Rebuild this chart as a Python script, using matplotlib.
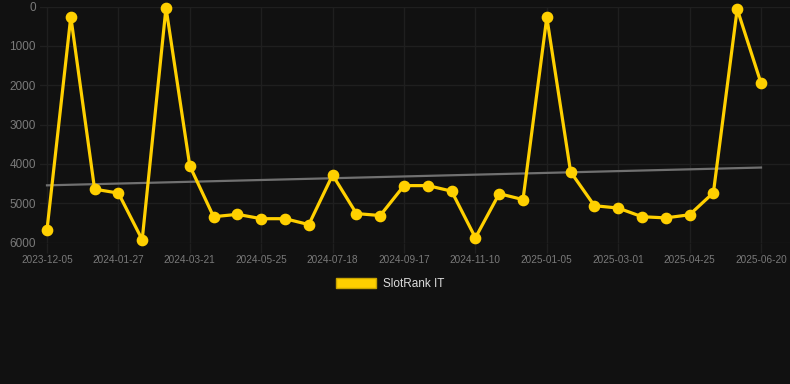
import numpy as np
import matplotlib
matplotlib.use("Agg")
import matplotlib.pyplot as plt
from matplotlib.patches import Patch

plt.rcParams['font.family'] = ['Liberation Sans', 'DejaVu Sans']

# rank values (lower = better, axis inverted)
ranks = [5670, 260, 4640, 4740, 5925, 30, 4050, 5340, 5280, 5390,
         5390, 5540, 4280, 5260, 5310, 4550, 4550, 4690, 5875, 4755,
         4905, 275, 4200, 5060, 5120, 5340, 5370, 5290, 4730, 65, 1945]
tick_labels = ["2023-12-05", "2024-01-27", "2024-03-21", "2024-05-25",
               "2024-07-18", "2024-09-17", "2024-11-10", "2025-01-05",
               "2025-03-01", "2025-04-25", "2025-06-20"]
y_ticks = [0, 1000, 2000, 3000, 4000, 5000, 6000]
series_name = "SlotRank IT"

bg = "#111111"
gold = "#FFD000"
grid_c = "#1f1f1f"

x = np.arange(len(ranks))

fig = plt.figure(figsize=(7.9, 3.84), dpi=100, facecolor=bg)
ax = fig.add_axes([40/790, 1 - 242.7/384, 750/790, (242.7 - 6.5)/384])
ax.set_facecolor(bg)

# trend line
k, b = np.polyfit(x, ranks, 1)
ax.plot(x, k*x + b, color="#707070", lw=1.6, zorder=2)

ax.plot(x, ranks, color=gold, lw=2.3, marker="o", ms=7.4,
        zorder=3, clip_on=False)

ax.set_ylim(6000, 0)
ax.set_xlim(-7/23.8, 30 + 29/23.8)
ax.set_yticks(y_ticks)
ax.set_yticklabels([str(v) for v in y_ticks])
ax.set_xticks(x[::3])
ax.set_xticklabels(tick_labels)

ax.grid(True, color=grid_c, lw=1)
for s in ax.spines.values():
    s.set_visible(False)
ax.tick_params(axis="x", colors=grid_c, length=7, width=1, labelsize=7.2,
               labelcolor="#7a7a7a", pad=2)
ax.tick_params(axis="y", length=0, labelsize=8.5, labelcolor="#7a7a7a", pad=3)

fig.legend(handles=[Patch(facecolor=gold, edgecolor="#c9a400", label=series_name)],
           loc="center", bbox_to_anchor=(390/790, 1 - 284/384), frameon=False,
           fontsize=8.5, labelcolor="#dddddd", handlelength=3.4,
           handleheight=0.95, handletextpad=0.6)

fig.savefig("out.png", dpi=100, facecolor=bg)
